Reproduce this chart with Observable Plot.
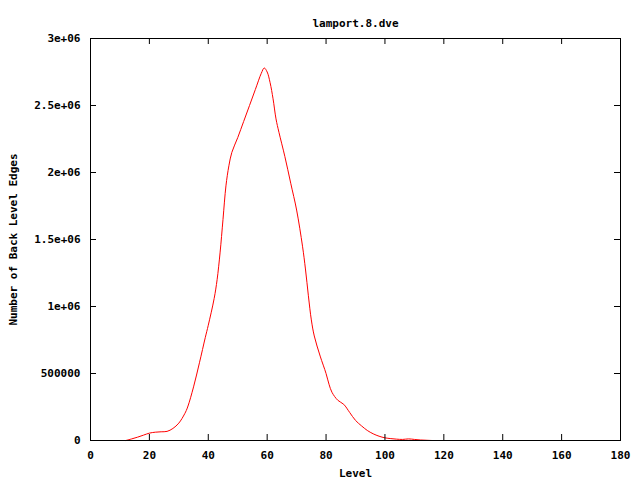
<!DOCTYPE html>
<html>
<head>
<meta charset="utf-8">
<script src="https://cdn.jsdelivr.net/npm/d3@7"></script>
<script src="https://cdn.jsdelivr.net/npm/@observablehq/plot@0.6"></script>
<style>
  html, body { margin: 0; padding: 0; background: #fff; }
</style>
</head>
<body>
<div id="chart"></div>
<script>
const title = "lamport.8.dve";
const xLabel = "Level";
const yLabel = "Number of Back Level Edges";

const levels = [12, 14, 16, 18, 20, 22, 24, 26, 28, 30, 32, 33, 35, 37, 39, 40, 42, 43, 44, 45, 46, 47, 48, 50, 52, 54, 56, 58, 59, 60, 61, 62, 63, 64, 66, 68, 70, 72, 73, 74, 75, 76, 78, 80, 81, 82, 84, 86, 88, 90, 92, 94, 96, 98, 100, 102, 104, 106, 108, 110, 112, 114, 116];
const edges = [0, 12000, 25000, 40000, 55000, 62000, 65000, 68000, 90000, 130000, 200000, 250000, 400000, 580000, 770000, 860000, 1060000, 1200000, 1400000, 1650000, 1900000, 2050000, 2150000, 2260000, 2380000, 2500000, 2620000, 2740000, 2780000, 2750000, 2670000, 2550000, 2400000, 2300000, 2120000, 1920000, 1720000, 1450000, 1280000, 1080000, 900000, 780000, 630000, 500000, 420000, 360000, 300000, 270000, 210000, 150000, 110000, 75000, 50000, 32000, 20000, 14000, 10000, 8000, 12000, 8000, 4000, 2000, 0];

const xTicks = [0, 20, 40, 60, 80, 100, 120, 140, 160, 180];
const yTicks = [0, 500000, 1000000, 1500000, 2000000, 2500000, 3000000];
const yTickLabels = ["0", "500000", "1e+06", "1.5e+06", "2e+06", "2.5e+06", "3e+06"];

const data = levels.map((x, i) => ({x, y: edges[i]}));

const W = 640, H = 480;
const mL = 90, mR = 20, mT = 38, mB = 40;
const innerW = W - mL - mR, innerH = H - mT - mB;
const tl = 6;

const chart = Plot.plot({
  width: W,
  height: H,
  marginLeft: mL,
  marginRight: mR,
  marginTop: mT,
  marginBottom: mB,
  style: {fontFamily: "'DejaVu Sans Mono', monospace", fontSize: "11px", fontWeight: "bold", color: "#000", background: "#fff"},
  x: {domain: [0, 180]},
  y: {domain: [0, 3000000]},
  marks: [
    Plot.line(data, {x: "x", y: "y", stroke: "#ff0000", strokeWidth: 1, curve: "catmull-rom"}),
    Plot.tickX(xTicks, {x: d => d, stroke: "#000", insetTop: innerH - tl}),
    Plot.tickX(xTicks, {x: d => d, stroke: "#000", insetBottom: innerH - tl}),
    Plot.tickY(yTicks, {y: d => d, stroke: "#000", insetRight: innerW - tl}),
    Plot.tickY(yTicks, {y: d => d, stroke: "#000", insetLeft: innerW - tl}),
    Plot.frame({stroke: "#000", strokeWidth: 1}),
    Plot.axisX(xTicks, {tickSize: 0, tickPadding: 11, label: xLabel, labelAnchor: "center", labelArrow: "none", labelOffset: 36}),
    Plot.axisY(yTicks, {tickSize: 0, tickPadding: 10, tickFormat: (d, i) => yTickLabels[yTicks.indexOf(d)], label: yLabel, labelAnchor: "center", labelArrow: "none", labelOffset: 81}),
    Plot.text([title], {frameAnchor: "top", dy: -19, text: d => d, fontSize: 11, fontWeight: "bold"})
  ]
});
document.getElementById("chart").appendChild(chart);
</script>
</body>
</html>
